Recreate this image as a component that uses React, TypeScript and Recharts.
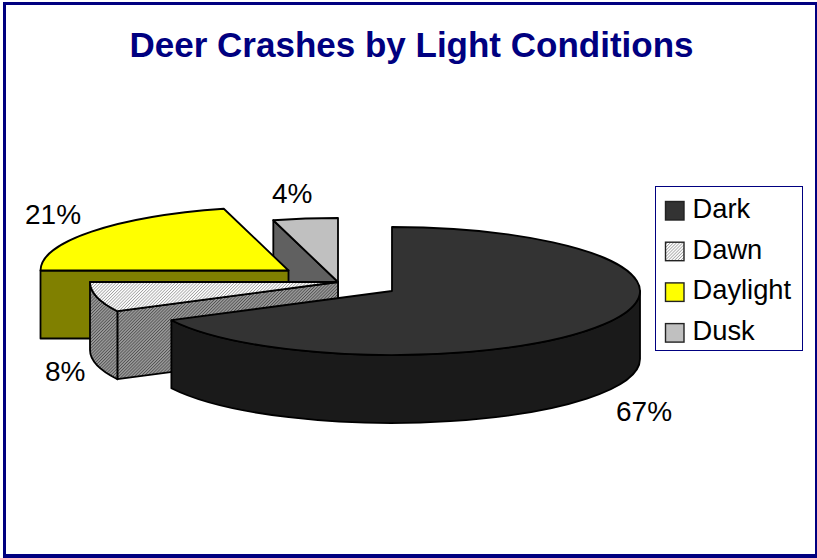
import React from "react";
import { PieChart, Pie, Legend } from "recharts";

const TITLE = "Deer Crashes by Light Conditions";
const legendNames = ["Dark", "Dawn", "Daylight", "Dusk"];
const drawOrderNames = ["Dusk", "Daylight", "Dawn", "Dark"];
const drawOrderValues = [4.2, 20.8, 7.55, 67.45];

const pieData = drawOrderNames.map((name, i) => ({ name, value: drawOrderValues[i] }));

const FONT = '"Liberation Sans", Arial, sans-serif';
const TILT = 0.258;
const DEPTH = 68;

const styles: Record<string, { top: string; cut: string; wall: string; dx: number; dy: number; lx: number; ly: number }> = {
  Dark: { top: "#333333", cut: "#1a1a1a", wall: "#1a1a1a", dx: 54, dy: 9, lx: 616, ly: 421 },
  Dawn: { top: "url(#dawnTop)", cut: "url(#dawnWall)", wall: "url(#dawnWall)", dx: 0, dy: 0, lx: 45, ly: 381 },
  Daylight: { top: "#ffff00", cut: "#808000", wall: "#808000", dx: -49.5, dy: -11.5, lx: 25, ly: 224 },
  Dusk: { top: "#c0c0c0", cut: "#606060", wall: "#606060", dx: 0, dy: 0, lx: 272, ly: 203 },
};

function Slice3D(props: any) {
  const { cx, cy, outerRadius, startAngle, endAngle, name } = props;
  const s = styles[name];
  const x0 = cx + s.dx;
  const y0 = cy + s.dy;
  const rx = outerRadius;
  const ry = outerRadius * TILT;
  const a = 450 - endAngle; // clockwise from top
  const b = 450 - startAngle;
  const pt = (deg: number, down = 0) => {
    const t = (deg * Math.PI) / 180;
    return [x0 + rx * Math.sin(t), y0 - ry * Math.cos(t) + down];
  };
  const arc = (from: number, to: number, down = 0) => {
    const e = pt(to, down);
    const large = Math.abs(to - from) > 180 ? 1 : 0;
    const sweep = to > from ? 1 : 0;
    return `A ${rx} ${ry} 0 ${large} ${sweep} ${e[0]} ${e[1]}`;
  };
  const stroke = { stroke: "#000", strokeWidth: 1.8, strokeLinejoin: "round" as const };
  const parts: React.ReactNode[] = [];
  const cut = (deg: number, key: string) => {
    const p = pt(deg);
    parts.push(
      <path key={key} d={`M ${x0} ${y0} L ${p[0]} ${p[1]} v ${DEPTH} L ${x0} ${y0 + DEPTH} Z`} fill={s.cut} {...stroke} />
    );
  };
  const sinA = Math.sin((a * Math.PI) / 180);
  const sinB = Math.sin((b * Math.PI) / 180);
  if (sinA < -1e-6) cut(a, "cutA");
  if (sinB > 1e-6) cut(b, "cutB");
  const w1 = Math.max(a, 90);
  const w2 = Math.min(b, 270);
  if (w2 > w1) {
    const p1 = pt(w1);
    const p2 = pt(w2, DEPTH);
    parts.push(
      <path
        key="wall"
        d={`M ${p1[0]} ${p1[1]} ${arc(w1, w2)} L ${p2[0]} ${p2[1]} ${arc(w2, w1, DEPTH)} Z`}
        fill={s.wall}
        {...stroke}
      />
    );
  }
  const pa = pt(a);
  parts.push(
    <path key="top" d={`M ${x0} ${y0} L ${pa[0]} ${pa[1]} ${arc(a, b)} Z`} fill={s.top} {...stroke} />
  );
  return <g>{parts}</g>;
}

function renderLabel(props: any) {
  const s = styles[props.name];
  return (
    <text key={props.name} x={s.lx} y={s.ly} fontFamily={FONT} fontSize={28} fill="#000" textAnchor="start">
      {`${Math.round(props.value)}%`}
    </text>
  );
}

const swatchFill: Record<string, string> = {
  Dark: "#333333",
  Dawn: "url(#dawnTop)",
  Daylight: "#ffff00",
  Dusk: "#c0c0c0",
};

function LegendBox() {
  return (
    <svg width={149} height={166} style={{ display: "block" }}>
      <rect x={0.5} y={0.5} width={147} height={164} fill="#fff" stroke="#000080" strokeWidth={1} />
      {legendNames.map((n, i) => {
        const y = 15.5 + i * 40.7;
        return (
          <g key={n}>
            <rect x={10.5} y={y} width={18.5} height={18.5} fill={swatchFill[n]} stroke="#222" strokeWidth={1.4} />
            <text x={37.5} y={y + 16.5} fontFamily={FONT} fontSize={27.3} fill="#000">
              {n}
            </text>
          </g>
        );
      })}
    </svg>
  );
}

export default function App() {
  return (
    <div style={{ position: "absolute", left: 0, top: 0, width: 817, height: 558, background: "#fff", overflow: "hidden" }}>
      <div
        style={{
          position: "absolute",
          left: 3,
          top: 2,
          width: 814,
          height: 555.5,
          boxSizing: "border-box",
          borderStyle: "solid",
          borderColor: "#000080",
          borderWidth: "3px 2.5px 4px 3px",
        }}
      />
      <PieChart width={817} height={558} margin={{ top: 0, right: 0, bottom: 0, left: 0 }} style={{ position: "absolute", left: 0, top: 0 }}>
        <defs>
          <pattern id="dawnTop" width={2.2} height={2.2} patternUnits="userSpaceOnUse" patternTransform="rotate(45)">
            <rect width={2.2} height={2.2} fill="#ffffff" />
            <rect width={0.8} height={2.2} fill="#a0a0a0" />
          </pattern>
          <pattern id="dawnWall" width={2.2} height={2.2} patternUnits="userSpaceOnUse" patternTransform="rotate(45)">
            <rect width={2.2} height={2.2} fill="#9a9a9a" />
            <rect width={0.8} height={2.2} fill="#505050" />
          </pattern>
        </defs>
        <text x={411.5} y={57} textAnchor="middle" fontFamily={FONT} fontWeight="bold" fontSize={35} fill="#000080">
          {TITLE}
        </text>
        <Pie
          data={pieData}
          dataKey="value"
          nameKey="name"
          cx={338}
          cy={282}
          innerRadius={0}
          outerRadius={248}
          startAngle={90}
          endAngle={450}
          paddingAngle={0}
          isAnimationActive={false}
          shape={Slice3D}
          label={renderLabel}
          labelLine={false}
        />
        <Legend
          content={() => <LegendBox />}
          layout="vertical"
          align="right"
          verticalAlign="top"
          wrapperStyle={{ position: "absolute", left: 655, top: 186, width: 149, height: 166 }}
        />
      </PieChart>
    </div>
  );
}
